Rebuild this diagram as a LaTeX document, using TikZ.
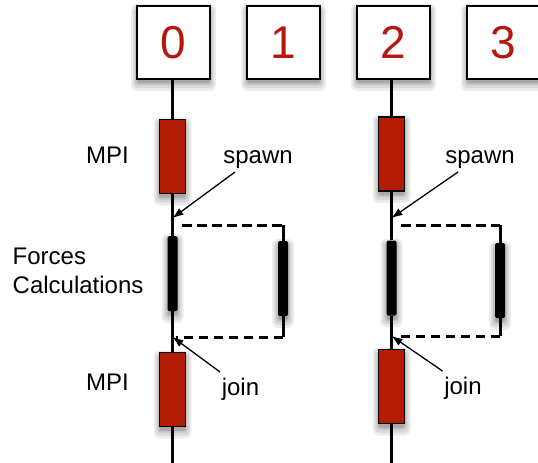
\documentclass[tikz,border=0pt]{standalone}
\usepackage{fontspec}
\setmainfont{Liberation Sans}
\usetikzlibrary{arrows.meta}
\definecolor{mpired}{HTML}{B31B02}
\definecolor{digitred}{HTML}{B5170F}
\definecolor{shadeA}{gray}{0.93}
\definecolor{shadeB}{gray}{0.85}
\definecolor{shadeC}{gray}{0.76}
\definecolor{shadeD}{gray}{0.66}
\tikzset{
  rankbox/.style={draw, line width=1.8pt, fill=white,
      minimum width=73pt, minimum height=73pt, inner sep=0pt, text=digitred,
      font=\fontsize{46}{46}\selectfont},
  mpibox/.style={draw, line width=1.3pt, fill=mpired,
      minimum width=26pt, minimum height=74pt, inner sep=0pt},
  forcebar/.style={fill=black, minimum width=10pt,
      minimum height=75pt, inner sep=0pt, rounded corners=1.5pt},
  lbl/.style={font=\fontsize{24}{28}\selectfont, inner sep=0pt},
  timeline/.style={line width=3pt},
  forkline/.style={line width=3pt, dash pattern=on 9.5pt off 5.5pt},
  stub/.style={line width=3pt},
  pointer/.style={line width=1.3pt, -{Latex[length=11pt,width=8pt]}},
}
% soft drop shadow: four nested grey rectangles, widest and lightest first
% #1,#2 top-left corner; #3,#4 bottom-right corner of the shape
\newcommand\dropshade[4]{%
  \fill[shadeA, rounded corners=6pt] (#1-6,#2-2) rectangle (#3+6,#4+12);
  \fill[shadeB, rounded corners=4pt] (#1-4,#2) rectangle (#3+4,#4+9);
  \fill[shadeC, rounded corners=3pt] (#1-2,#2+2) rectangle (#3+2,#4+6);
  \fill[shadeD, rounded corners=2pt] (#1,#2+3) rectangle (#3,#4+4);
}
\begin{document}
\begin{tikzpicture}[x=1pt,y=-1pt]
  \useasboundingbox (0,0) rectangle (538,463);

  % shadows under boxes and bars
  \dropshade{137}{6}{210}{79}
  \dropshade{247}{6}{320}{79}
  \dropshade{357}{6}{430}{79}
  \dropshade{467}{6}{540}{79}
  \dropshade{159.5}{119.5}{185.5}{193.5}
  \dropshade{378.5}{117}{404.5}{191}
  \dropshade{159.5}{352.5}{185.5}{426.5}
  \dropshade{378.5}{349.5}{404.5}{423.5}
  \dropshade{167.5}{236}{177.5}{311}
  \dropshade{278}{241}{288}{316}
  \dropshade{386.5}{240.5}{396.5}{315.5}
  \dropshade{495}{243}{505}{318}

  \coordinate (end0) at (172.5,463);
  \coordinate (end2) at (391.5,463);

  % rank boxes
  \node[rankbox] (b0) at (173.5,42.5) {0};
  \node[rankbox] (b1) at (283.5,42.5) {1};
  \node[rankbox] (b2) at (393.5,42.5) {2};
  \node[rankbox] (b3) at (503.5,42.5) {3};

  % spawn / join points and fork corners
  \coordinate (sp0) at (172.5,218);
  \coordinate (jn0) at (172.5,337);
  \coordinate (sp2) at (391.5,218);
  \coordinate (jn2) at (391.5,336);
  \coordinate (ft0) at (182,225);
  \coordinate (fc0) at (283,225);
  \coordinate (fb0) at (283,337);
  \coordinate (fe0) at (176,337);
  \coordinate (ft2) at (401,225);
  \coordinate (fc2) at (500,225);
  \coordinate (fb2) at (500,336);
  \coordinate (fe2) at (395,336);

  % MPI phases
  \node[mpibox] (m0a) at (172.5,156.5) {};
  \node[mpibox] (m2a) at (391.5,154) {};
  \node[mpibox] (m0b) at (172.5,389.5) {};
  \node[mpibox] (m2b) at (391.5,386.5) {};

  % force calculation bars
  \node[forcebar] (f0a) at (172.5,273.5) {};
  \node[forcebar] (f0b) at (283,278.5) {};
  \node[forcebar] (f2a) at (391.5,278) {};
  \node[forcebar] (f2b) at (500,280.5) {};

  % process timelines between the phases
  \draw[timeline] (b0.south -| end0) -- (m0a.north);
  \draw[timeline] (m0a.south) -- (f0a.north);
  \draw[timeline] (f0a.south) -- (m0b.north);
  \draw[timeline] (m0b.south) -- (end0);
  \draw[timeline] (b2.south -| end2) -- (m2a.north);
  \draw[timeline] (m2a.south) -- (f2a.north);
  \draw[timeline] (f2a.south) -- (m2b.north);
  \draw[timeline] (m2b.south) -- (end2);

  % forked threads
  \draw[forkline] (ft0) -- (fc0);
  \draw[stub] (fc0) -- (f0b.north);
  \draw[stub] (f0b.south) -- (fb0);
  \draw[forkline] (fb0) -- (fe0);
  \draw[forkline] (ft2) -- (fc2);
  \draw[stub] (fc2) -- (f2b.north);
  \draw[stub] (f2b.south) -- (fb2);
  \draw[forkline] (fb2) -- (fe2);

  % labels
  \node[lbl, anchor=base] (mpi1) at (107.5,163) {MPI};
  \node[lbl, anchor=base] (mpi2) at (107.5,390) {MPI};
  \node[lbl, anchor=base west] (forces) at (12.5,264) {Forces};
  \node[lbl, anchor=base west] (calc) at (12.5,293) {Calculations};
  \node[lbl, anchor=base] (spawn0) at (258,163) {spawn};
  \node[lbl, anchor=base] (spawn2) at (480,163) {spawn};
  \node[lbl, anchor=base] (join0) at (240.5,395) {join};
  \node[lbl, anchor=base] (join2) at (463,394) {join};

  % pointers to spawn / join points
  \coordinate (st0) at (235,172);
  \coordinate (st2) at (458,172);
  \coordinate (jt0) at (220,372);
  \coordinate (jt2) at (442.5,371);
  \draw[pointer] (st0) -- (sp0);
  \draw[pointer] (st2) -- (sp2);
  \draw[pointer] (jt0) -- (jn0);
  \draw[pointer] (jt2) -- (jn2);
\end{tikzpicture}
\end{document}
